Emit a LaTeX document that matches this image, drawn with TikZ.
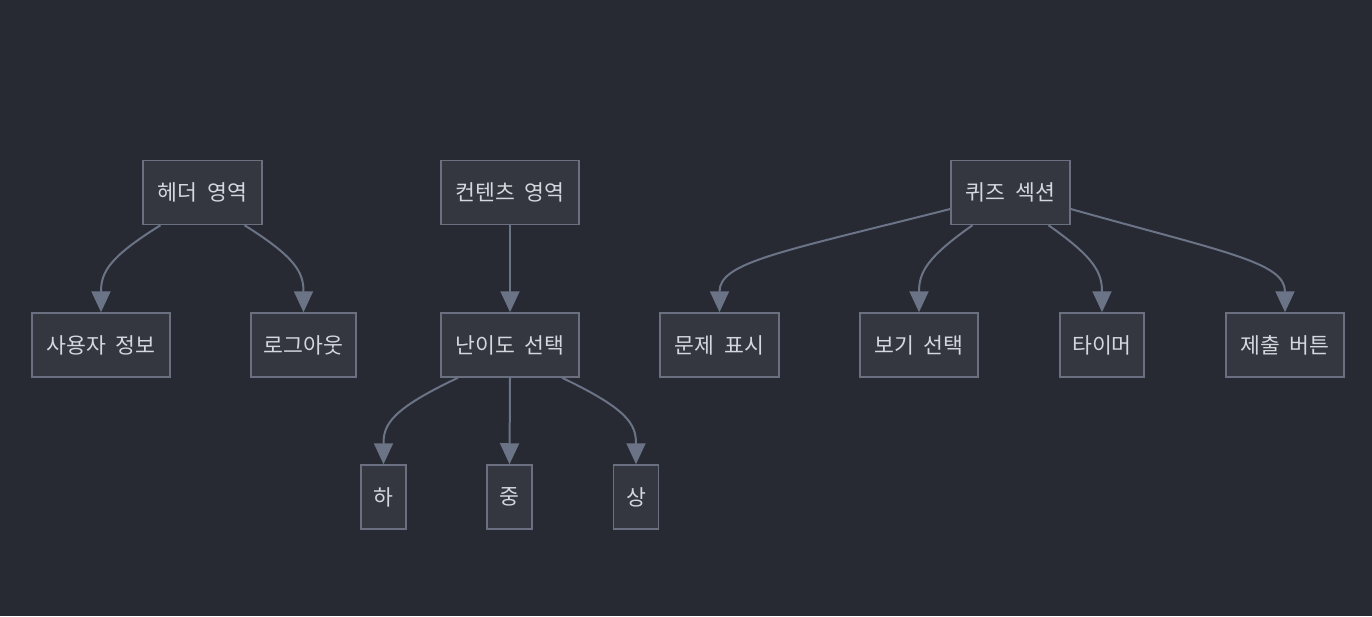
\documentclass[tikz,border=0pt]{standalone}
\usepackage{fontspec}
\setmainfont{Noto Sans CJK KR}
\usetikzlibrary{arrows.meta,calc}
\definecolor{bgc}{HTML}{282A33}
\definecolor{boxfill}{HTML}{343640}
\definecolor{boxline}{HTML}{6B7080}
\definecolor{txt}{HTML}{D4D7DE}
\definecolor{edge}{HTML}{6B7386}
\newcommand{\myboxfont}{\fontsize{21.6}{26}\selectfont}
\newcommand{\wsp}{\hspace{10pt}}
\tikzset{
  box/.style={draw=boxline, fill=boxfill, line width=1.5pt, inner sep=0pt,
    minimum height=64pt, text=txt, font=\myboxfont},
  conn/.style={draw=edge, line width=2pt, -{Triangle[length=21pt,width=19pt]}}
}
\begin{document}
\begin{tikzpicture}[x=1pt,y=-1pt]
\fill[bgc] (0,0) rectangle (1372,616);
\useasboundingbox (0,0) rectangle (1372,616);
% nodes
\node[box, minimum width=119pt] (hd) at (202.5,192.5) {헤더\wsp 영역};
\node[box, minimum width=138pt] (ui) at (101,345) {사용자\wsp 정보};
\node[box, minimum width=105pt] (lo) at (303.5,345) {로그아웃};
\node[box, minimum width=138pt] (ct) at (510,192.5) {컨텐츠\wsp 영역};
\node[box, minimum width=138pt] (df) at (510,345) {난이도\wsp 선택};
\node[box, minimum width=45pt] (lw) at (383.5,497) {하};
\node[box, minimum width=45pt] (md) at (509.5,497) {중};
\node[box, minimum width=45pt] (hi) at (636,497) {상};
\node[box, minimum width=119pt] (qz) at (1010.5,192.5) {퀴즈\wsp 섹션};
\node[box, minimum width=119pt] (qs) at (719.5,345) {문제\wsp 표시};
\node[box, minimum width=118pt] (ch) at (919,345) {보기\wsp 선택};
\node[box, minimum width=84pt] (tm) at (1102,345) {타이머};
\node[box, minimum width=118pt] (sb) at (1285,345) {제출\wsp 버튼};
% edges
\draw[conn] ($(hd.south)+(-42,0)$) .. controls ($(ui.north)+(8,-55)$) and ($(ui.north)+(0,-40)$) .. (ui.north);
\draw[conn] ($(hd.south)+(42,0)$) .. controls ($(lo.north)+(-8,-55)$) and ($(lo.north)+(0,-40)$) .. (lo.north);
\draw[conn] (ct.south) -- (df.north);
\draw[conn] ($(df.south)+(-52,0)$) .. controls ($(lw.north)+(8,-55)$) and ($(lw.north)+(0,-40)$) .. (lw.north);
\draw[conn] (df.south) -- (md.north);
\draw[conn] ($(df.south)+(52,0)$) .. controls ($(hi.north)+(-8,-55)$) and ($(hi.north)+(0,-40)$) .. (hi.north);
\draw[conn] ($(qz.west)+(0,16.5)$) .. controls ($(qs.north)+(60,-60)$) and ($(qs.north)+(0,-50)$) .. (qs.north);
\draw[conn] ($(qz.south)+(-38,0)$) .. controls ($(ch.north)+(8,-55)$) and ($(ch.north)+(0,-40)$) .. (ch.north);
\draw[conn] ($(qz.south)+(38,0)$) .. controls ($(tm.north)+(-8,-55)$) and ($(tm.north)+(0,-40)$) .. (tm.north);
\draw[conn] ($(qz.east)+(0,16.5)$) .. controls ($(sb.north)+(-60,-60)$) and ($(sb.north)+(0,-50)$) .. (sb.north);
\end{tikzpicture}
\end{document}
